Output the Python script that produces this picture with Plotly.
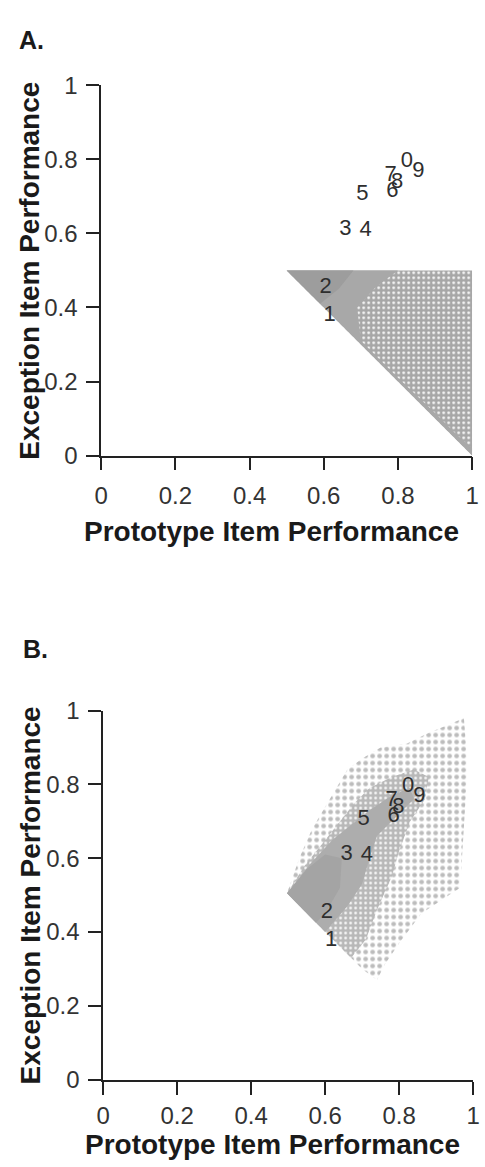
import plotly.graph_objects as go

W, H = 485, 1167

# ---------------- data ----------------
digit_labels = ['7', '8', '6', '0', '9', '5', '3', '4', '2', '1']
digit_x = [0.780, 0.798, 0.785, 0.824, 0.855, 0.704, 0.658, 0.713, 0.605, 0.616]
digit_y = [0.757, 0.738, 0.714, 0.795, 0.766, 0.705, 0.610, 0.607, 0.454, 0.378]

tick_vals = [0, 0.2, 0.4, 0.6, 0.8, 1]
tick_text = ['0', '0.2', '0.4', '0.6', '0.8', '1']

# Panel A: region covered by the simulated networks (x >= .5, y <= .5, x + y >= 1)
regionA_x = [0.5, 1.0, 1.0]
regionA_y = [0.5, 0.5, 0.0]
# denser bands (along top edge and diagonal)
bandA_x = [0.5, 0.80, 0.74, 0.69, 0.70, 0.80, 0.90, 0.96, 1.0, 1.0]
bandA_y = [0.5, 0.5, 0.455, 0.40, 0.31, 0.21, 0.115, 0.055, 0.02, 0.0]
coreA_x = [0.5, 0.68, 0.64, 0.59]
coreA_y = [0.5, 0.5, 0.45, 0.41]

# Panel B: sparse outer cloud, medium body, dense core
outerB_x = [0.497, 0.53, 0.565, 0.60, 0.63, 0.66, 0.70, 0.75, 0.82, 0.88, 0.93, 0.975,
            0.985, 0.975, 0.965, 0.92, 0.86, 0.80, 0.76, 0.74, 0.70]
outerB_y = [0.505, 0.60, 0.68, 0.74, 0.79, 0.84, 0.87, 0.90, 0.91, 0.94, 0.96, 0.98,
            0.85, 0.68, 0.52, 0.49, 0.45, 0.37, 0.31, 0.27, 0.30]
midB_x = [0.497, 0.545, 0.597, 0.64, 0.68, 0.72, 0.78, 0.84, 0.88, 0.87, 0.83, 0.80,
          0.78, 0.74, 0.71, 0.67]
midB_y = [0.505, 0.58, 0.645, 0.70, 0.75, 0.79, 0.82, 0.84, 0.82, 0.76, 0.70, 0.62,
          0.55, 0.46, 0.38, 0.33]
coreB_x = [0.497, 0.56, 0.62, 0.67, 0.72, 0.78, 0.83, 0.84, 0.79, 0.74, 0.72, 0.70,
           0.66, 0.60]
coreB_y = [0.505, 0.585, 0.65, 0.69, 0.73, 0.77, 0.79, 0.76, 0.71, 0.66, 0.60, 0.53,
           0.47, 0.40]
darkB_x = [0.497, 0.55, 0.60, 0.645, 0.64, 0.60, 0.575]
darkB_y = [0.505, 0.57, 0.61, 0.60, 0.52, 0.45, 0.425]

# ---------------- layout geometry (pixels) ----------------
def px_x(p):
    return p / W

def px_y(p):
    return 1 - p / H

A_x0, A_x1, A_y0, A_y1 = 97, 479, 452, 73
B_x0, B_x1, B_y0, B_y1 = 99, 480, 1091, 713

FONT = "Liberation Sans, Arial, Helvetica, sans-serif"
AXC = "#222222"

fig = go.Figure()


def poly(x, y, xa, ya, color, pattern=None):
    d = dict(x=x + [x[0]], y=y + [y[0]], mode='lines', fill='toself',
             fillcolor=color, line=dict(width=0, color=color),
             hoverinfo='skip', showlegend=False, xaxis=xa, yaxis=ya)
    if pattern:
        d['fillpattern'] = pattern
    fig.add_trace(go.Scatter(**d))


# Panel A
poly(regionA_x, regionA_y, 'x', 'y', '#ababab',
     dict(shape='.', bgcolor='#a7a7a7', fgcolor='#ffffff', size=5, solidity=0.22,
          fillmode='replace'))
poly(bandA_x, bandA_y, 'x', 'y', '#a8a8a8')
poly(coreA_x, coreA_y, 'x', 'y', '#9d9d9d')

# Panel B
poly(outerB_x, outerB_y, 'x2', 'y2', '#ffffff',
     dict(shape='.', bgcolor='#ffffff', fgcolor='#bcbcbc', size=7, solidity=0.35,
          fillmode='replace'))
poly(midB_x, midB_y, 'x2', 'y2', '#c0c0c0',
     dict(shape='.', bgcolor='#b8b8b8', fgcolor='#ffffff', size=5, solidity=0.22,
          fillmode='replace'))
poly(coreB_x, coreB_y, 'x2', 'y2', '#adadad')
poly(darkB_x, darkB_y, 'x2', 'y2', '#a4a4a4')

for xa, ya in (('x', 'y'), ('x2', 'y2')):
    fig.add_trace(go.Scatter(
        x=digit_x, y=digit_y, mode='text', text=digit_labels,
        textposition='middle center',
        textfont=dict(family=FONT, size=22, color='#2e2e2e'),
        hoverinfo='skip', showlegend=False, xaxis=xa, yaxis=ya))

axis_common = dict(range=[0, 1], tickvals=tick_vals, ticktext=tick_text,
                   showgrid=False, zeroline=False, showline=True,
                   linecolor=AXC, linewidth=1.6, ticks='outside', ticklen=13,
                   tickwidth=1.5, tickcolor=AXC,
                   tickfont=dict(family=FONT, size=24, color='#333333'),
                   fixedrange=True)

fig.update_layout(
    width=W, height=H, margin=dict(l=0, r=0, t=0, b=0),
    paper_bgcolor='white', plot_bgcolor='white',
    xaxis=dict(axis_common, domain=[px_x(A_x0), px_x(A_x1)], anchor='y',
               ticklabelstandoff=5, ticklabeloverflow='allow'),
    yaxis=dict(axis_common, domain=[px_y(A_y0), px_y(A_y1)], anchor='x',
               ticklabelstandoff=4),
    xaxis2=dict(axis_common, domain=[px_x(B_x0), px_x(B_x1)], anchor='y2',
                ticklabelstandoff=1, ticklabeloverflow='allow'),
    yaxis2=dict(axis_common, domain=[px_y(B_y0), px_y(B_y1)], anchor='x2',
                ticklabelstandoff=4),
)

TITLE_FONT = dict(family=FONT, size=28, color='#1a1a1a', weight='bold')
PANEL_FONT = dict(family=FONT, size=25, color='#1a1a1a', weight='bold')
ann = [
    dict(text='A.', x=px_x(25), y=px_y(27), font=PANEL_FONT),
    dict(text='B.', x=px_x(29), y=px_y(650), font=PANEL_FONT),
    dict(text='Prototype Item Performance', x=px_x(272), y=px_y(530), font=TITLE_FONT),
    dict(text='Prototype Item Performance', x=px_x(273), y=px_y(1157), font=TITLE_FONT),
    dict(text='Exception Item Performance', x=px_x(23), y=px_y((A_y0 + A_y1) / 2),
         font=TITLE_FONT, textangle=-90),
    dict(text='Exception Item Performance', x=px_x(24), y=px_y((B_y0 + B_y1) / 2),
         font=TITLE_FONT, textangle=-90),
]
for a in ann:
    a.update(xref='paper', yref='paper', showarrow=False, xanchor='center', yanchor='middle')
    fig.add_annotation(**a)

fig.write_html("out.html")
